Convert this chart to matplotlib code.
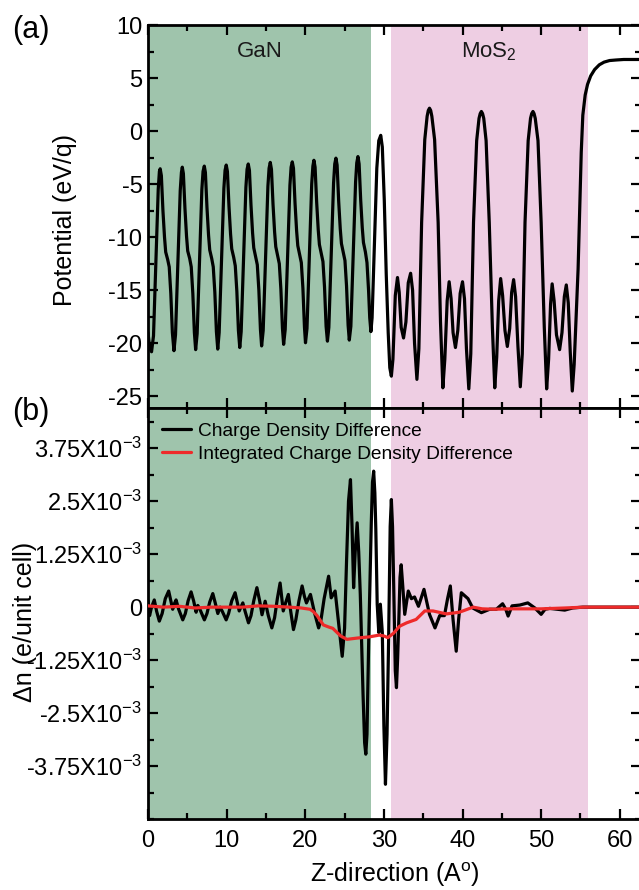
import matplotlib
matplotlib.use("Agg")
import matplotlib.pyplot as plt
from matplotlib.ticker import MultipleLocator, FixedLocator

plt.rcParams['font.family'] = ['Liberation Sans', 'DejaVu Sans']
plt.rcParams['mathtext.default'] = 'regular'
plt.rcParams['axes.unicode_minus'] = False

# --- planar averaged electrostatic potential (eV/q) along z (Angstrom) ---
pot_z = [
    0.0, 0.2, 0.45, 0.7, 1.0, 1.3, 1.45, 1.55, 1.7, 1.9, 2.1, 2.25, 2.5, 2.7, 2.9, 3.1, 3.3,
    3.5, 3.8, 4.1, 4.25, 4.36, 4.5, 4.7, 4.9, 5.05, 5.3, 5.5, 5.7, 5.9, 6.06,
    6.25, 6.55, 6.85, 7.0, 7.16, 7.3, 7.5, 7.7, 7.85, 8.1, 8.3, 8.5, 8.7, 8.87,
    9.05, 9.35, 9.65, 9.8, 9.95, 10.1, 10.3, 10.5, 10.65, 10.9, 11.1, 11.3, 11.5, 11.67,
    11.85, 12.15, 12.45, 12.6, 12.75, 12.9, 13.1, 13.3, 13.45, 13.7, 13.9, 14.1, 14.3, 14.45,
    14.65, 14.95, 15.25, 15.4, 15.55, 15.7, 15.9, 16.1, 16.25, 16.5, 16.7, 16.9, 17.1, 17.25,
    17.45, 17.75, 18.05, 18.2, 18.35, 18.5, 18.7, 18.9, 19.05, 19.3, 19.5, 19.7, 19.9, 20.03,
    20.22, 20.52, 20.82, 20.97, 21.1, 21.25, 21.45, 21.65, 21.8, 22.05, 22.25, 22.45, 22.65, 22.82,
    23.0, 23.3, 23.6, 23.75, 23.9, 24.05, 24.25, 24.45, 24.6, 24.85, 25.05, 25.25, 25.45, 25.6,
    25.8, 26.1, 26.4, 26.55, 26.7, 26.85, 27.05, 27.25, 27.4, 27.65, 27.85, 28.05, 28.2, 28.35,
    28.5, 28.8, 29.1, 29.35, 29.6, 29.8, 30.05, 30.3, 30.55, 30.75, 30.95,
    31.15, 31.45, 31.73, 31.95, 32.2, 32.5, 32.8, 33.1, 33.4, 33.65, 33.9, 34.2,
    34.45, 34.8, 35.2, 35.5, 35.65, 35.8, 35.95, 36.1, 36.45, 36.9, 37.2, 37.5,
    37.75, 38.05, 38.3, 38.55, 38.8, 39.1, 39.4, 39.7, 40.0, 40.25, 40.5, 40.8,
    41.05, 41.4, 41.8, 42.1, 42.25, 42.4, 42.55, 42.7, 43.0, 43.4, 43.8, 44.1,
    44.35, 44.6, 44.85, 45.1, 45.4, 45.7, 46.0, 46.25, 46.5, 46.75, 47.05, 47.35,
    47.6, 47.95, 48.35, 48.65, 48.8, 48.96, 49.1, 49.25, 49.6, 50.0, 50.4, 50.7,
    50.95, 51.2, 51.4, 51.65, 51.95, 52.35, 52.65, 52.95, 53.2, 53.45, 53.7, 53.96,
    54.2, 54.45, 54.7, 54.9, 55.1, 55.3, 55.6, 55.9, 56.3, 56.8, 57.4, 58.0, 58.7,
    59.5, 60.5, 61.5, 62.7,
]
pot_v = [
    -19.0, -20.4, -20.8, -19.3, -12.5, -5.5, -3.8, -3.55, -4.2, -7.5, -10.0, -11.4, -12.1, -12.8, -15.3, -19.0, -20.7,
    -19.2, -12.3, -5.6, -3.9, -3.4, -4.0, -7.3, -9.9, -11.3, -12.0, -12.8, -15.3, -19.0, -20.6,
    -19.1, -12.3, -5.5, -3.8, -3.3, -3.9, -7.2, -9.8, -11.2, -12.0, -12.8, -15.2, -18.9, -20.55,
    -19.0, -12.2, -5.4, -3.7, -3.2, -3.8, -7.1, -9.7, -11.1, -11.9, -12.7, -15.1, -18.8, -20.4,
    -18.9, -12.1, -5.3, -3.6, -3.1, -3.7, -7.0, -9.6, -11.0, -11.9, -12.6, -15.0, -18.7, -20.25,
    -18.8, -12.0, -5.2, -3.5, -2.95, -3.6, -6.9, -9.5, -10.9, -11.8, -12.5, -14.9, -18.6, -20.1,
    -18.7, -11.9, -5.1, -3.4, -2.9, -3.5, -6.8, -9.4, -10.8, -11.7, -12.4, -14.8, -18.5, -19.95,
    -18.6, -11.8, -5.0, -3.3, -2.75, -3.4, -6.7, -9.3, -10.7, -11.6, -12.3, -14.7, -18.4, -19.8,
    -18.5, -11.7, -4.9, -3.1, -2.55, -3.2, -6.6, -9.2, -10.6, -11.5, -12.2, -14.6, -18.3, -19.7,
    -18.4, -11.6, -4.8, -3.0, -2.4, -3.1, -6.5, -9.1, -10.5, -11.4, -12.4, -15.0, -17.6, -18.9,
    -17.6, -10.5, -3.5, -0.9, -0.4, -1.5, -6.5, -13.5, -19.0, -22.3, -23.1,
    -21.5, -15.5, -13.8, -15.2, -18.5, -19.5, -18.0, -14.3, -13.4, -15.0, -20.0, -23.4,
    -20.5, -8.6, -0.8, 1.4, 1.95, 2.16, 1.95, 1.4, -0.8, -8.6, -18.0, -24.2,
    -21.5, -16.0, -14.2, -15.8, -19.0, -20.4, -18.8, -15.3, -14.2, -15.8, -20.5, -24.3,
    -21.0, -8.6, -0.9, 1.2, 1.65, 1.85, 1.65, 1.2, -0.9, -8.6, -18.5, -24.2,
    -21.3, -16.0, -13.9, -15.5, -18.8, -20.3, -18.6, -15.2, -14.0, -15.6, -20.3, -24.1,
    -21.0, -8.6, -0.9, 1.2, 1.65, 1.85, 1.65, 1.2, -0.9, -8.6, -18.5, -24.3,
    -21.5, -16.3, -14.4, -16.0, -19.2, -20.6, -19.0, -15.6, -14.5, -16.2, -20.8, -24.5,
    -22.0, -17.5, -13.0, -7.5, -2.0, 1.5, 3.4, 4.4, 5.2, 5.8, 6.25, 6.5, 6.65,
    6.7, 6.75, 6.75, 6.75,
]

# --- charge density difference (units of 1e-3 e/unit cell) ---
cdd_z = [
    0.0, 0.2, 0.45, 0.8, 1.1, 1.44, 1.8, 2.2, 2.63, 2.9, 3.14, 3.35, 3.57, 3.9, 4.42,
    4.75, 5.1, 5.48, 5.8, 6.12, 6.33, 6.6, 7.17, 7.5, 7.85, 8.24, 8.55, 8.88, 9.17, 9.45, 9.94,
    10.25, 10.65, 11.08, 11.35, 11.6, 12.06, 12.35, 12.78, 13.1, 13.45, 13.85, 14.2, 14.5, 14.9,
    15.3, 15.75, 16.1, 16.45, 16.8, 17.0, 17.2, 17.5, 17.85, 18.15, 18.5, 18.8, 19.2, 19.6,
    19.9, 20.15, 20.66, 21.2, 21.7, 22.0, 22.4, 22.97, 23.3, 23.8, 24.2,
    24.7, 25.0, 25.25, 25.5, 25.75, 25.95, 26.15, 26.35, 26.6, 26.8, 27.0, 27.35, 27.55,
    27.7, 27.85, 28.1, 28.4, 28.55, 28.7, 28.85, 28.97, 29.15, 29.35, 29.55, 29.8, 30.0,
    30.2, 30.4, 30.6, 30.8, 30.95, 31.1, 31.25, 31.45, 31.6, 31.75, 31.9, 32.05, 32.2, 32.4,
    32.65, 33.1, 33.5, 33.9, 34.4, 35.1, 35.8, 36.5, 37.1, 37.7, 38.1, 38.45, 38.8,
    39.2, 39.5, 39.85, 40.7, 41.3, 42.4, 43.45, 44.3, 45.1, 45.5, 45.8, 46.3, 47.3, 48.3,
    49.2, 50.0, 50.5, 51.1, 52.0, 53.0, 54.0, 55.3, 58.0, 62.7,
]
cdd_v = [
    0.15, -0.2, 0.0, 0.17, -0.1, -0.33, -0.15, 0.2, 0.38, 0.15, -0.05, 0.08, 0.17, -0.05, -0.3,
    -0.15, 0.15, 0.36, 0.15, -0.12, 0.04, -0.05, -0.3, -0.15, 0.12, 0.32, 0.1, -0.15, 0.0, -0.1, -0.3,
    -0.15, 0.15, 0.34, 0.12, -0.09, 0.1, -0.1, -0.37, -0.2, 0.15, 0.46, 0.15, -0.18, 0.14,
    -0.2, -0.49, -0.25, 0.2, 0.57, 0.25, -0.09, 0.1, 0.3, -0.1, -0.53, -0.3, 0.15, 0.5,
    0.25, 0.1, 0.3, -0.15, -0.49, -0.3, 0.2, 0.73, 0.22, 0.38, -0.3,
    -1.16, -0.5, 1.08, 2.5, 3.01, 1.9, 0.46, 1.3, 1.99, 1.3, 0.3, -2.06, -3.2,
    -3.47, -3.0, -0.49, 2.0, 2.95, 3.21, 2.7, 1.87, 0.07, -0.6, 0.07, -0.6, -2.8,
    -4.18, -3.0, -0.8, 1.9, 2.54, 1.9, 0.5, -1.5, -1.9, -1.2, -0.3, 0.7, 1.0, 0.5,
    -0.17, 0.38, 0.2, 0.24, 0.02, 0.42, -0.17, -0.49, -0.2, -0.2, 0.2, 0.5, -0.3,
    -1.04, -0.3, 0.34, 0.2, -0.02, -0.13, -0.05, -0.05, 0.08, -0.05, -0.21, 0.03, 0.05, 0.1,
    -0.02, -0.17, -0.05, -0.03, -0.05, -0.07, -0.02, 0.0, 0.0, 0.0,
]

# --- integrated charge density difference (units of 1e-3) ---
icdd_z = [0.0, 2.0, 4.0, 6.0, 8.0, 10.0, 12.0, 14.0, 16.0, 18.0, 19.5, 20.6, 21.0, 21.5,
          22.3, 23.0, 23.5, 24.5, 25.3, 26.6, 28.2, 29.4, 30.0, 30.5, 31.2, 32.0, 32.9,
          34.1, 35.2, 36.25, 37.95, 39.6, 41.35, 42.5, 44.0, 46.0, 50.0, 53.0, 55.5, 62.7]
icdd_v = [0.03, 0.0, 0.02, -0.02, 0.0, 0.0, 0.0, 0.03, 0.02, 0.0, -0.02, -0.05, -0.1, -0.2,
          -0.42, -0.47, -0.5, -0.68, -0.76, -0.73, -0.70, -0.66, -0.68, -0.72, -0.62, -0.45, -0.37,
          -0.29, -0.09, -0.09, -0.16, -0.12, 0.0, -0.04, -0.05, -0.04, -0.04, -0.02, 0.0, 0.0]

# layer extents along z
gan_span = (0.0, 28.4)
mos2_span = (30.85, 55.9)

cd_ticks = [-3.75, -2.5, -1.25, 0.0, 1.25, 2.5, 3.75]
cd_labels = ['-3.75X10$^{-3}$', '-2.5X10$^{-3}$', '-1.25X10$^{-3}$', '0',
             '1.25X10$^{-3}$', '2.5X10$^{-3}$', '3.75X10$^{-3}$']

GREEN = '#9fc4ac'
PINK = '#eecee3'
line_kw = dict(lw=2.3, solid_joinstyle='round', solid_capstyle='round')

W, H = 639, 890
fig = plt.figure(figsize=(W / 100, H / 100), dpi=100)
left = 148 / W
width = (641 - 148) / W
ax1 = fig.add_axes([left, 1 - 408 / H, width, (408 - 25) / H])
ax2 = fig.add_axes([left, 1 - 819 / H, width, (819 - 408) / H])

for ax in (ax1, ax2):
    ax.axvspan(*gan_span, color=GREEN, lw=0, zorder=0)
    ax.axvspan(*mos2_span, color=PINK, lw=0, zorder=0)
    ax.set_xlim(0, 62.7)
    ax.xaxis.set_major_locator(MultipleLocator(10))
    ax.xaxis.set_minor_locator(MultipleLocator(5))
    ax.tick_params(which='both', direction='in', top=True, right=True, labelsize=17)
    ax.tick_params(which='major', length=7, width=1.6)
    ax.tick_params(which='minor', length=4, width=1.6)
    ax.tick_params(axis='y', pad=4)
    for sp in ax.spines.values():
        sp.set_linewidth(2)

# (a) potential
ax1.plot(pot_z, pot_v, color='black', zorder=3, **line_kw)
ax1.set_ylim(-26.1, 10)
ax1.yaxis.set_major_locator(MultipleLocator(5))
ax1.yaxis.set_minor_locator(MultipleLocator(2.5))
ax1.tick_params(axis='x', labelbottom=False)
ax1.set_ylabel('Potential (eV/q)', fontsize=18)
ax1.yaxis.set_label_coords(-0.145, 0.49)
ax1.text(sum(gan_span) / 2, 0.93, 'GaN', transform=ax1.get_xaxis_transform(),
         ha='center', va='center', fontsize=16, color='#1a1a1a')
ax1.text(sum(mos2_span) / 2, 0.93, 'MoS$_2$', transform=ax1.get_xaxis_transform(),
         ha='center', va='center', fontsize=16, color='#1a1a1a')

# (b) charge density difference
ax2.plot(cdd_z, cdd_v, color='black', zorder=3, label='Charge Density Difference', **line_kw)
ax2.plot(icdd_z, icdd_v, color='#ee2a2a', zorder=4,
         label='Integrated Charge Density Difference', **line_kw)
ax2.set_ylim(-5.0, 4.7)
ax2.yaxis.set_major_locator(FixedLocator(cd_ticks))
ax2.set_yticklabels(cd_labels)
ax2.yaxis.set_minor_locator(MultipleLocator(0.625))
ax2.tick_params(axis='x', pad=8)
ax2.set_ylabel('Δn (e/unit cell)', fontsize=18)
ax2.yaxis.set_label_coords(-0.225, 0.48)
ax2.set_xlabel('Z-direction (A$^{o}$)', fontsize=18, labelpad=6)
ax2.legend(loc='upper left', bbox_to_anchor=(0.0, 1.0), frameon=False, fontsize=13.8,
           handlelength=1.5, handletextpad=0.35, labelspacing=0.3, borderaxespad=0.35,
           borderpad=0.4)

fig.text(12 / W, 1 - 30 / H, '(a)', fontsize=22, ha='left', va='center')
fig.text(12 / W, 1 - 412 / H, '(b)', fontsize=22, ha='left', va='center')

fig.savefig('out.png', dpi=100)
